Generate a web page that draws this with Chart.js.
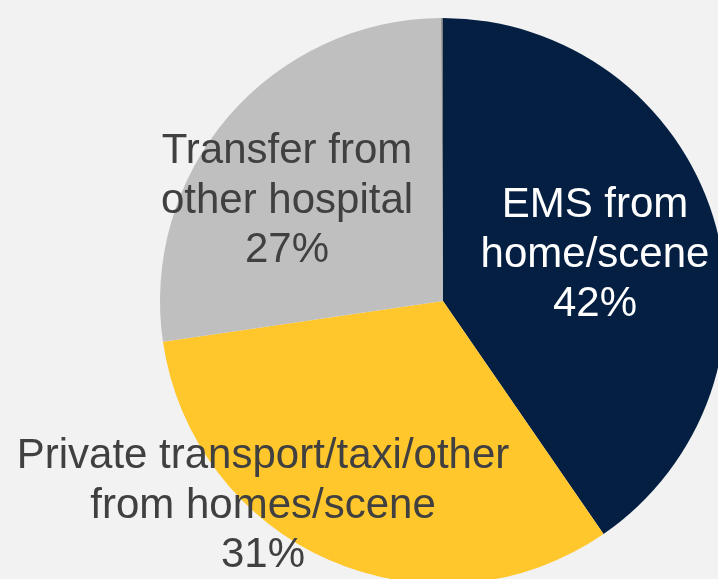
<!DOCTYPE html>
<html>
<head>
<meta charset="utf-8">
<script src="https://cdn.jsdelivr.net/npm/chart.js@4.4.1/dist/chart.umd.min.js"></script>
<style>
  html, body { margin: 0; padding: 0; background: #f2f2f2; overflow: hidden; width: 718px; height: 579px; }
  #wrap { position: absolute; left: 0; top: 0; }
</style>
</head>
<body>
<div id="wrap"><canvas id="pie" width="726" height="584"></canvas></div>
<script>
// data
const categories = ['EMS from home/scene', 'Private transport/taxi/other from homes/scene', 'Transfer from other hospital', 'Other'];
const shares = [40.4, 32.3, 27.2, 0.1];
const shareLabels = ['42%', '31%', '27%', ''];
const labelLines = [
    ['EMS from', 'home/scene'],
    ['Private transport/taxi/other', 'from homes/scene'],
    ['Transfer from', 'other hospital'],
    []
];

const sliceColors = ['#041f42', '#ffc72c', '#bfbfbf', '#7f7f7f'];
const textColors = ['#ffffff', '#404040', '#404040', '#404040'];
// where each label block sits, relative to the pie centre (first baseline)
const labelOffsets = [[152, -84], [-180, 167], [-156, -138], null];

const pieLabels = {
    id: 'pieLabels',
    afterDraw(chart) {
        const ctx = chart.ctx;
        const arc = chart.getDatasetMeta(0).data[0];
        const cx = arc.x, cy = arc.y;
        ctx.save();
        ctx.font = '42px "Liberation Sans", Arial, sans-serif';
        ctx.textAlign = 'center';
        ctx.textBaseline = 'alphabetic';
        labelLines.forEach((lines, i) => {
            if (!labelOffsets[i]) return;
            const all = lines.concat([shareLabels[i]]);
            ctx.fillStyle = textColors[i];
            all.forEach((line, j) => {
                ctx.fillText(line, cx + labelOffsets[i][0], cy + labelOffsets[i][1] + j * 49.5);
            });
        });
        ctx.restore();
    }
};

const ctx = document.getElementById('pie').getContext('2d');
new Chart(ctx, {
    type: 'pie',
    data: {
        labels: categories,
        datasets: [{
            data: shares,
            backgroundColor: sliceColors,
            borderWidth: 0
        }]
    },
    options: {
        responsive: false,
        animation: false,
        layout: { padding: { left: 160, top: 18, right: 0, bottom: 0 } },
        plugins: {
            legend: { display: false },
            tooltip: { enabled: false }
        }
    },
    plugins: [pieLabels]
});
</script>
</body>
</html>
